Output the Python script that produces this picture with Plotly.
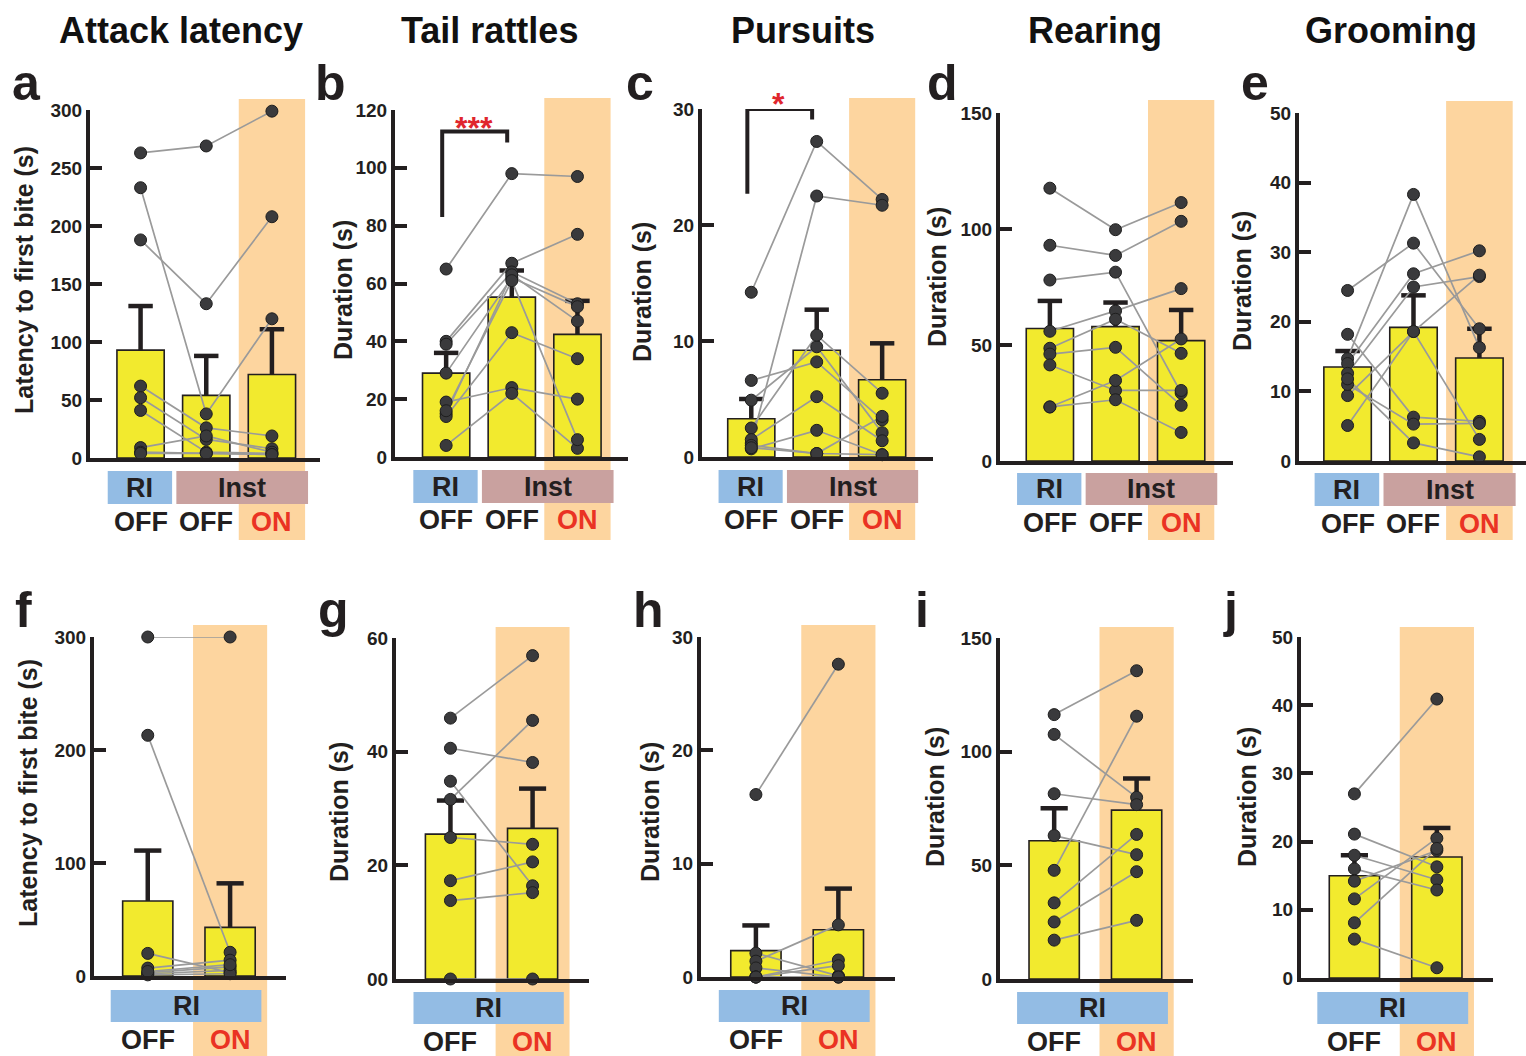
import plotly.graph_objects as go

W, H = 1526, 1056
FONT = "Liberation Sans, Arial, Helvetica, sans-serif"
INK = "#231F20"
BAR_FILL = "#F2EA2E"
DOT = "#3A3A3C"
LINK = "#9A9A9A"
BAND = "#FDD59F"
RI_BOX = "#93BCE4"
INST_BOX = "#C9A19F"
RED = "#EA3323"

# ------------------------------------------------------------------ data
column_titles = ["Attack latency", "Tail rattles", "Pursuits", "Rearing", "Grooming"]
panel_letters = ["a", "b", "c", "d", "e", "f", "g", "h", "i", "j"]
latency_label = "Latency to first bite (s)"
duration_label = "Duration (s)"
top_conditions = ["OFF", "OFF", "ON"]
bottom_conditions = ["OFF", "ON"]

# a: attack latency (RI OFF, Inst OFF, Inst ON), one entry per animal
a_ri_off = [263, 233, 188, 62, 52, 41, 9, 5, 4]
a_inst_off = [269, 38, 133, 26, 16, 5, 19, 4, 4]
a_inst_on = [299, 120, 208, 19, 8, 4, 5, 3, 3]
a_mean = [93, 54, 72]
a_sem = [38, 34, 39]
a_ticks = [0, 50, 100, 150, 200, 250, 300]
a_ticklabels = ["0", "50", "100", "150", "200", "250", "300"]

# b: tail rattles
b_ri_off = [65, 40, 39, 29, 19, 15, 14, 4, 16]
b_inst_off = [98, 67, 64, 62, 24, 63, 43, 22, 61]
b_inst_on = [97, 77, 53, 52, 20, 47, 34, 3, 6]
b_mean = [29, 55.3, 42.4]
b_sem = [7, 9.2, 11.6]
b_ticks = [0, 20, 40, 60, 80, 100, 120]
b_ticklabels = ["0", "20", "40", "60", "80", "100", "120"]
b_bracket = [83, 112.6, 108.8]
b_stars = "***"

# c: pursuits
c_ri_off = [14.2, 1.2, 6.6, 4.9, 2.5, 1.5, 0.7, 1.0, 0.8]
c_inst_off = [27.2, 22.5, 8.2, 9.5, 10.5, 5.2, 2.3, 0.3, 0.3]
c_inst_on = [22.2, 21.7, 3.2, 2.1, 5.5, 1.4, 0.2, 3.5, 0.2]
c_mean = [3.3, 9.2, 6.66]
c_sem = [1.7, 3.5, 3.14]
c_ticks = [0, 10, 20, 30]
c_ticklabels = ["0", "10", "20", "30"]
c_bracket = [22.7, 30.0, 29.1]
c_stars = "*"

# d: rearing
d_ri_off = [117.6, 93, 78, 55.9, 48.6, 46.1, 41.4, 23.3, 23.3]
d_inst_off = [99.7, 88.6, 81.4, 64.7, 61.1, 49, 30.4, 34.7, 26.4]
d_inst_on = [111.4, 103.3, 29.3, 74.3, 46.4, 24, 30.4, 52.6, 12.3]
d_mean = [57.1, 57.9, 51.9]
d_sem = [11.9, 10.4, 13.2]
d_ticks = [0, 50, 100, 150]
d_ticklabels = ["0", "50", "100", "150"]

# e: grooming
e_ri_off = [24.5, 18.2, 14.7, 14.0, 12.6, 9.4, 5.1, 11.0, 11.8]
e_inst_off = [31.3, 6.3, 38.3, 26.9, 25.0, 18.6, 18.6, 5.3, 2.6]
e_inst_on = [19.0, 5.7, 16.3, 30.2, 26.5, 26.7, 3.1, 5.4, 0.6]
e_mean = [13.5, 19.2, 14.8]
e_sem = [2.3, 4.6, 4.2]
e_ticks = [0, 10, 20, 30, 40, 50]
e_ticklabels = ["0", "10", "20", "30", "40", "50"]

# f: attack latency (RI OFF, RI ON)
f_off = [300, 213, 20, 7, 3, 2, 1, 4]
f_on = [300, 21, 3, 14, 8, 5, 2, 10]
f_mean = [66.4, 43]
f_sem = [44.6, 39]
f_ticks = [0, 100, 200, 300]
f_ticklabels = ["0", "100", "200", "300"]

# g: tail rattles
g_off = [45.9, 40.6, 34.8, 31.6, 24.9, 17.3, 13.8, 0]
g_on = [56.9, 38.1, 16.4, 45.5, 23.7, 20.6, 15.2, 0]
g_mean = [25.5, 26.5]
g_sem = [5.9, 7.0]
g_ticks = [0, 20, 40, 60]
g_ticklabels = ["00", "20", "40", "60"]

# h: pursuits
h_off = [16.1, 2.1, 1.4, 0.8, 0, 0, 0, 0]
h_on = [27.6, 0.1, 4.6, 0, 1.5, 1.0, 0, 0]
h_mean = [2.33, 4.17]
h_sem = [2.22, 3.63]
h_ticks = [0, 10, 20, 30]
h_ticklabels = ["0", "10", "20", "30"]

# i: rearing
i_off = [116.3, 107.6, 81.5, 63.1, 47.8, 33.5, 25.1, 17.1]
i_on = [135.6, 79.9, 76.7, 54.7, 115.6, 63.6, 47.2, 25.8]
i_mean = [60.8, 74.3]
i_sem = [14.3, 13.9]
i_ticks = [0, 50, 100, 150]
i_ticklabels = ["0", "50", "100", "150"]

# j: grooming
j_off = [27, 21.1, 18, 16, 14.2, 11.6, 8.1, 5.7]
j_on = [40.9, 16.3, 14.4, 12.9, 18.7, 20.5, 19.0, 1.5]
j_mean = [15.0, 17.75]
j_sem = [3.0, 4.25]
j_ticks = [0, 10, 20, 30, 40, 50]
j_ticklabels = ["0", "10", "20", "30", "40", "50"]

panels = [
    dict(cols=[a_ri_off, a_inst_off, a_inst_on], mean=a_mean, sem=a_sem, ticks=a_ticks, tl=a_ticklabels, yt=latency_label),
    dict(cols=[b_ri_off, b_inst_off, b_inst_on], mean=b_mean, sem=b_sem, ticks=b_ticks, tl=b_ticklabels, yt=duration_label,
         bracket=b_bracket, stars=b_stars),
    dict(cols=[c_ri_off, c_inst_off, c_inst_on], mean=c_mean, sem=c_sem, ticks=c_ticks, tl=c_ticklabels, yt=duration_label,
         bracket=c_bracket, stars=c_stars),
    dict(cols=[d_ri_off, d_inst_off, d_inst_on], mean=d_mean, sem=d_sem, ticks=d_ticks, tl=d_ticklabels, yt=duration_label),
    dict(cols=[e_ri_off, e_inst_off, e_inst_on], mean=e_mean, sem=e_sem, ticks=e_ticks, tl=e_ticklabels, yt=duration_label),
    dict(cols=[f_off, f_on], mean=f_mean, sem=f_sem, ticks=f_ticks, tl=f_ticklabels, yt=latency_label),
    dict(cols=[g_off, g_on], mean=g_mean, sem=g_sem, ticks=g_ticks, tl=g_ticklabels, yt=duration_label),
    dict(cols=[h_off, h_on], mean=h_mean, sem=h_sem, ticks=h_ticks, tl=h_ticklabels, yt=duration_label),
    dict(cols=[i_off, i_on], mean=i_mean, sem=i_sem, ticks=i_ticks, tl=i_ticklabels, yt=duration_label),
    dict(cols=[j_off, j_on], mean=j_mean, sem=j_sem, ticks=j_ticks, tl=j_ticklabels, yt=duration_label),
]

# ------------------------------------------------------------------ layout geometry (pixels)
# x-axis line left/right, x range, zero line, top tick, band top/bottom, box top/bottom,
# condition label y, panel letter (x,y), y title (x,y)
geom = [
    dict(xl=88, xr=320, r=(-0.77, 2.732), z=460, t=110, bt=99, bb=540, kt=471, kb=504, ly=522, let=(26, 83), ytl=(24, 280)),
    dict(xl=393, xr=628, r=(-0.779, 2.770), z=459, t=110, bt=98, bb=540, kt=470, kb=503, ly=520, let=(330, 83), ytl=(343, 290)),
    dict(xl=700, xr=933, r=(-0.753, 2.777), z=459, t=109, bt=98, bb=540, kt=470, kb=503, ly=520, let=(640, 83), ytl=(642, 292)),
    dict(xl=998, xr=1233, r=(-0.760, 2.790), z=463, t=113, bt=100, bb=540, kt=473, kb=505, ly=523, let=(942, 83), ytl=(937, 277)),
    dict(xl=1297, xr=1526, r=(-0.737, 2.707), z=463, t=113, bt=101, bb=540, kt=473, kb=506, ly=524, let=(1255, 83), ytl=(1242, 281)),
    dict(xl=92, xr=286, r=(-0.653, 1.679), z=978, t=637, bt=625, bb=1056, kt=990, kb=1022, ly=1040, let=(24, 610), ytl=(28, 793)),
    dict(xl=394, xr=589, r=(-0.663, 1.687), z=981, t=638, bt=627, bb=1056, kt=992, kb=1024, ly=1042, let=(333, 610), ytl=(339, 812)),
    dict(xl=699, xr=895, r=(-0.666, 1.687), z=979, t=637, bt=625, bb=1056, kt=990, kb=1022, ly=1040, let=(648, 610), ytl=(650, 812)),
    dict(xl=998, xr=1193, r=(-0.657, 1.684), z=981, t=638, bt=627, bb=1056, kt=992, kb=1024, ly=1042, let=(922, 610), ytl=(935, 797)),
    dict(xl=1299, xr=1493, r=(-0.648, 1.681), z=980, t=637, bt=627, bb=1056, kt=992, kb=1024, ly=1042, let=(1230, 610), ytl=(1247, 797)),
]
title_pos = [(181, 30), (489, 30), (803, 30), (1095, 30), (1391, 30)]


def fx(p):
    return p / W


def fy(p):
    return 1 - p / H


fig = go.Figure()
shapes = []
annotations = []
layout_axes = {}

for n, (p, g) in enumerate(zip(panels, geom), start=1):
    xa = "x" if n == 1 else f"x{n}"
    ya = "y" if n == 1 else f"y{n}"
    top = n <= 5
    ncol = len(p["cols"])
    idx = list(range(ncol))
    bw = 0.72 if top else 0.61
    cap = 0.186 if top else 0.165
    half_band = 0.505 if top else 0.45

    layout_axes["xaxis" if n == 1 else f"xaxis{n}"] = dict(
        domain=[fx(g["xl"] + 2), fx(g["xr"])], range=list(g["r"]), anchor=ya,
        showline=True, linewidth=4, linecolor=INK, ticks="", showticklabels=False,
        showgrid=False, zeroline=False, fixedrange=True,
    )
    layout_axes["yaxis" if n == 1 else f"yaxis{n}"] = dict(
        domain=[fy(g["z"] - 2), fy(g["t"])], range=[0, p["ticks"][-1]], anchor=xa,
        showline=True, linewidth=4, linecolor=INK, ticks="inside", ticklen=12, tickwidth=4,
        tickcolor=INK, tickvals=p["ticks"], ticktext=[f"<b>{t}</b>" for t in p["tl"]],
        tickfont=dict(family=FONT, size=19, color=INK), showgrid=False, zeroline=False,
        fixedrange=True,
    )

    # bars (group means)
    fig.add_trace(go.Bar(
        x=idx, y=p["mean"], width=bw, xaxis=xa, yaxis=ya,
        marker=dict(color=BAR_FILL, line=dict(color=INK, width=1.6)), hoverinfo="skip",
    ))
    # SEM (upper only)
    ex, ey = [], []
    for i, (m, s) in enumerate(zip(p["mean"], p["sem"])):
        ex += [i, i, None, i - cap, i + cap, None]
        ey += [m, m + s, None, m + s, m + s, None]
    fig.add_trace(go.Scatter(x=ex, y=ey, mode="lines", xaxis=xa, yaxis=ya,
                             line=dict(color=INK, width=4.5), hoverinfo="skip"))
    # paired lines per animal
    lx, ly = [], []
    for k in range(len(p["cols"][0])):
        for i, col in enumerate(p["cols"]):
            lx.append(i)
            ly.append(col[k])
        lx.append(None)
        ly.append(None)
    fig.add_trace(go.Scatter(x=lx, y=ly, mode="lines", xaxis=xa, yaxis=ya,
                             line=dict(color=LINK, width=1.7), hoverinfo="skip", cliponaxis=False))
    # individual points
    px_, py_ = [], []
    for i, col in enumerate(p["cols"]):
        px_ += [i] * len(col)
        py_ += list(col)
    fig.add_trace(go.Scatter(x=px_, y=py_, mode="markers", xaxis=xa, yaxis=ya, cliponaxis=False,
                             marker=dict(size=12, color=DOT, line=dict(color="#1E1E1E", width=1)),
                             hoverinfo="skip"))
    # significance bracket
    if "bracket" in p:
        yl, yt, yr = p["bracket"]
        fig.add_trace(go.Scatter(x=[-0.06, -0.06, 0.93, 0.93], y=[yl, yt, yt, yr], mode="lines",
                                 xaxis=xa, yaxis=ya, line=dict(color=INK, width=4),
                                 hoverinfo="skip", cliponaxis=False))

    # orange "ON" band
    on_i = ncol - 1
    shapes.append(dict(type="rect", xref=xa, yref="paper", x0=on_i - half_band, x1=on_i + half_band,
                       y0=fy(g["bb"]), y1=fy(g["bt"]), fillcolor=BAND, line=dict(width=0), layer="below"))
    # group boxes
    if top:
        boxes = [("RI", -0.5, 0.48, RI_BOX), ("Inst", 0.545, 2.55, INST_BOX)]
        conds = top_conditions
    else:
        boxes = [("RI", -0.45, 1.38, RI_BOX)]
        conds = bottom_conditions
    for lab, b0, b1, col in boxes:
        shapes.append(dict(type="rect", xref=xa, yref="paper", x0=b0, x1=b1,
                           y0=fy(g["kb"]), y1=fy(g["kt"]), fillcolor=col, line=dict(width=0), layer="below"))
        annotations.append(dict(xref=xa, yref="paper", x=(b0 + b1) / 2, y=fy((g["kt"] + g["kb"]) / 2),
                                text=f"<b>{lab}</b>", showarrow=False, xanchor="center", yanchor="middle",
                                font=dict(family=FONT, size=27, color=INK)))
    for i, c in enumerate(conds):
        annotations.append(dict(xref=xa, yref="paper", x=i, y=fy(g["ly"]), text=f"<b>{c}</b>",
                                showarrow=False, xanchor="center", yanchor="middle",
                                font=dict(family=FONT, size=27, color=RED if c == "ON" else INK)))
    # stars
    if "stars" in p:
        sy = 128 if n == 2 else 104
        annotations.append(dict(xref=xa, yref="paper", x=0.42, y=fy(sy), text=f"<b>{p['stars']}</b>",
                                showarrow=False, xanchor="center", yanchor="middle",
                                font=dict(family=FONT, size=32, color="#E0262D")))
    # panel letter
    annotations.append(dict(xref="paper", yref="paper", x=fx(g["let"][0]), y=fy(g["let"][1]),
                            text=f"<b>{panel_letters[n - 1]}</b>", showarrow=False,
                            xanchor="center", yanchor="middle", font=dict(family=FONT, size=50, color=INK)))
    # y-axis title
    annotations.append(dict(xref="paper", yref="paper", x=fx(g["ytl"][0]), y=fy(g["ytl"][1]),
                            text=f"<b>{p['yt']}</b>", textangle=-90, showarrow=False,
                            xanchor="center", yanchor="middle", font=dict(family=FONT, size=25, color=INK)))

for t, (tx, ty) in zip(column_titles, title_pos):
    annotations.append(dict(xref="paper", yref="paper", x=fx(tx), y=fy(ty), text=f"<b>{t}</b>",
                            showarrow=False, xanchor="center", yanchor="middle",
                            font=dict(family=FONT, size=36, color="#111111")))

fig.update_layout(
    width=W, height=H, margin=dict(l=0, r=0, t=0, b=0, pad=0, autoexpand=False),
    paper_bgcolor="white", plot_bgcolor="rgba(0,0,0,0)",
    showlegend=False, barmode="overlay",
    shapes=shapes, annotations=annotations,
    font=dict(family=FONT, color=INK),
    **layout_axes,
)

fig.write_html("out.html", config={"displayModeBar": False, "staticPlot": True},
               post_script="document.body.style.margin='0px';")
